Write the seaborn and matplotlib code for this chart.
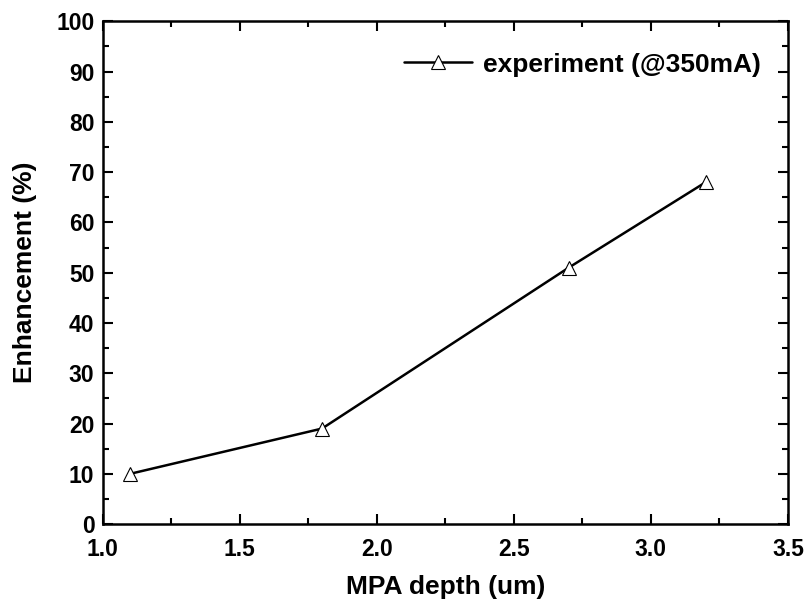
import matplotlib
matplotlib.use("Agg")
import matplotlib.pyplot as plt
import seaborn as sns
import pandas as pd
from matplotlib.ticker import MultipleLocator, FormatStrFormatter

depth = [1.1, 1.8, 2.7, 3.2]
enhancement = [10, 19, 51, 68]
series_label = "experiment (@350mA)"

sns.set_theme(style="ticks")
plt.rcParams['font.family'] = ['Liberation Sans', 'DejaVu Sans']
plt.rcParams['font.weight'] = 'bold'
plt.rcParams['text.color'] = 'black'
plt.rcParams['axes.labelcolor'] = 'black'
plt.rcParams['xtick.color'] = 'black'
plt.rcParams['ytick.color'] = 'black'

df = pd.DataFrame({"depth": depth, "enh": enhancement})

fig = plt.figure(figsize=(8.09, 6.08), dpi=100)
ax = fig.add_axes([0.127, 0.138, 0.847, 0.827])
sns.lineplot(data=df, x="depth", y="enh", ax=ax, color="black", linewidth=1.8,
             marker="^", markersize=10, markerfacecolor="white",
             markeredgecolor="black", markeredgewidth=0.8, label=series_label)

ax.set_xlim(1.0, 3.5)
ax.set_ylim(0, 100)
ax.xaxis.set_major_locator(MultipleLocator(0.5))
ax.xaxis.set_minor_locator(MultipleLocator(0.25))
ax.yaxis.set_major_locator(MultipleLocator(10))
ax.yaxis.set_minor_locator(MultipleLocator(5))
ax.xaxis.set_major_formatter(FormatStrFormatter('%.1f'))

ax.tick_params(which="both", direction="in", top=True, right=True, width=1.5,
               color="black", labelcolor="black")
ax.tick_params(which="major", length=7, labelsize=16.5)
ax.tick_params(axis="y", which="major", pad=6)
ax.tick_params(axis="x", which="major", pad=10)
ax.tick_params(which="minor", length=4)
for lab in ax.get_xticklabels() + ax.get_yticklabels():
    lab.set_fontweight("bold")
for s in ax.spines.values():
    s.set_linewidth(1.8)
    s.set_color("black")

ax.set_xlabel("MPA depth (um)", fontsize=19, fontweight="bold", labelpad=10, color="black")
ax.set_ylabel("Enhancement (%)", fontsize=19, fontweight="bold", labelpad=14, color="black")

leg = ax.legend(loc="upper right", frameon=False, fontsize=19, handlelength=2.6,
                bbox_to_anchor=(0.995, 0.985), handletextpad=0.4)
for t in leg.get_texts():
    t.set_fontweight("bold")
    t.set_color("black")

fig.savefig("out.png", dpi=100)
